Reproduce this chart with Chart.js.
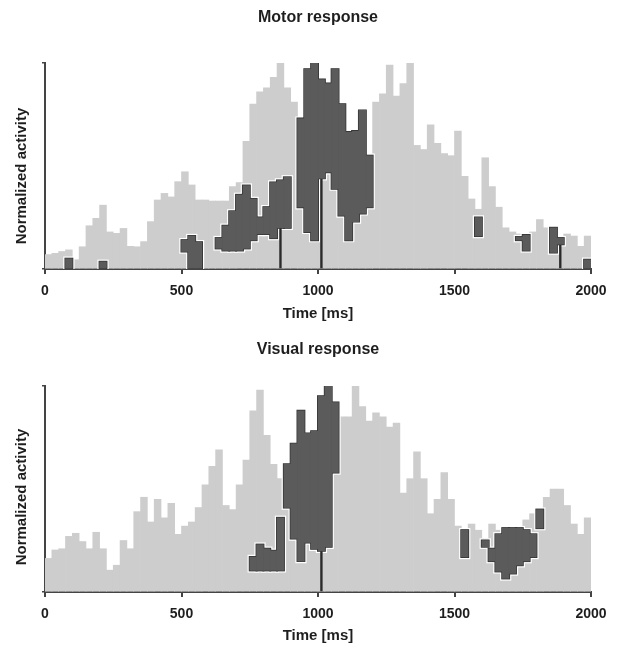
<!DOCTYPE html>
<html><head><meta charset="utf-8">
<script src="https://cdn.jsdelivr.net/npm/chart.js@4.4.1/dist/chart.umd.min.js"></script>
<style>
html,body{margin:0;padding:0;background:#fff;}
#wrap{position:relative;width:618px;height:649px;}
canvas{position:absolute;left:0;display:block;}
#c1{top:0}
#c2{top:325px}
</style></head><body>
<div id="wrap">
<canvas id="c1" width="618" height="325"></canvas>
<canvas id="c2" width="618" height="324"></canvas>
</div>
<script>
// Bin start times (ms), 25 ms bins
const binStarts = [0,25,50,75,100,125,150,175,200,225,250,275,300,325,350,375,400,425,450,475,
  500,525,550,575,600,625,650,675,700,725,750,775,800,825,850,875,900,925,950,975,
  1000,1025,1050,1075,1100,1125,1150,1175,1200,1225,1250,1275,1300,1325,1350,1375,1400,1425,1450,1475,
  1500,1525,1550,1575,1600,1625,1650,1675,1700,1725,1750,1775,1800,1825,1850,1875,1900,1925,1950,1975];
const xTicks = [0,500,1000,1500,2000];
const titles = ["Motor response","Visual response"];
const xLabel = "Time [ms]";
const yLabel = "Normalized activity";

// Motor response: whole population activity (light)
const motorAll = [0.07,0.076,0.085,0.093,0.045,0.108,0.21,0.246,0.31,0.18,0.173,0.197,0.11,0.108,0.133,0.23,0.335,0.367,0.35,0.424,
  0.472,0.408,0.335,0.335,0.33,0.33,0.33,0.4,0.42,0.62,0.8,0.86,0.88,0.93,1.0,0.88,0.81,0.5,0.3,0.3,
  0.45,0.47,0.42,0.3,0.2,0.3,0.3,0.35,0.81,0.85,0.99,0.84,0.9,1.0,0.6,0.58,0.7,0.61,0.56,0.55,
  0.67,0.45,0.34,0.29,0.54,0.4,0.3,0.2,0.18,0.17,0.16,0.18,0.24,0.2,0.17,0.12,0.17,0.16,0.11,0.16];
// Motor response: significant part (dark), [low, high]
const motorSig = [null,null,null,[0,0.05],null,null,null,null,[0,0.035],null,null,null,null,null,null,null,null,null,null,null,
  [0.085,0.14],[0,0.16],[0,0.13],null,null,[0.1,0.15],[0.09,0.21],[0.09,0.28],[0.09,0.36],[0.1,0.405],[0.14,0.34],[0.17,0.25],[0.17,0.3],[0.15,0.42],[0.2,0.43],[0.2,0.445],null,[0.3,0.73],[0.18,0.97],[0.14,1.0],
  [0.44,0.92],[0.47,0.9],[0.39,0.97],[0.26,0.8],[0.14,0.665],[0.23,0.67],[0.27,0.77],[0.3,0.55],null,null,null,null,null,null,null,null,null,null,null,null,
  null,null,null,[0.16,0.25],null,null,null,null,null,[0.14,0.155],[0.09,0.165],null,null,null,[0.08,0.2],[0.12,0.15],null,null,null,[0,0.045]];
// Motor response: thin dark stems down to the baseline
const motorStem = [null,null,null,null,null,null,null,null,null,null,null,null,null,null,null,null,null,null,null,null,
  null,null,null,null,null,null,null,null,null,null,null,null,null,null,0.2,null,null,null,null,null,
  0.44,null,null,null,null,null,null,null,null,null,null,null,null,null,null,null,null,null,null,null,
  null,null,null,null,null,null,null,null,null,null,null,null,null,null,null,0.12,null,null,null,null];

// Visual response
const visualAll = [0.163,0.204,0.21,0.27,0.285,0.245,0.21,0.29,0.21,0.106,0.13,0.25,0.21,0.39,0.46,0.34,0.45,0.36,0.43,0.28,
  0.32,0.34,0.41,0.52,0.61,0.69,0.42,0.4,0.52,0.64,0.88,0.98,0.76,0.62,0.55,0.45,0.3,0.2,0.28,0.25,
  0.22,0.25,0.6,0.85,0.85,1.0,0.9,0.83,0.87,0.85,0.8,0.82,0.48,0.55,0.68,0.55,0.38,0.45,0.58,0.45,
  0.32,0.29,0.33,0.3,0.26,0.33,0.3,0.25,0.25,0.3,0.35,0.38,0.4,0.46,0.5,0.5,0.42,0.33,0.28,0.36];
const visualSig = [null,null,null,null,null,null,null,null,null,null,null,null,null,null,null,null,null,null,null,null,
  null,null,null,null,null,null,null,null,null,null,[0.105,0.17],[0.105,0.23],[0.105,0.21],[0.105,0.2],[0.105,0.36],[0.41,0.62],[0.26,0.72],[0.15,0.88],[0.24,0.77],[0.21,0.78],
  [0.2,0.95],[0.22,1.0],[0.58,0.92],null,null,null,null,null,null,null,null,null,null,null,null,null,null,null,null,null,
  null,[0.17,0.3],null,null,[0.22,0.25],[0.15,0.21],[0.1,0.28],[0.066,0.31],[0.09,0.31],[0.13,0.31],[0.15,0.3],[0.17,0.28],[0.31,0.4],null,null,null,null,null,null,null];
const visualStem = [null,null,null,null,null,null,null,null,null,null,null,null,null,null,null,null,null,null,null,null,
  null,null,null,null,null,null,null,null,null,null,null,null,null,null,null,null,null,null,null,null,
  0.2,null,null,null,null,null,null,null,null,null,null,null,null,null,null,null,null,null,null,null,
  null,null,null,null,null,null,null,null,null,null,null,null,null,null,null,null,null,null,null,null];

const FONT = '"Liberation Sans", Arial, Helvetica, sans-serif';
const INK = '#1e1e1e';
const AXIS = '#444444';
const binWidth = binStarts[1] - binStarts[0];

function toPoints(vals, asRange) {
  const out = [];
  vals.forEach((v, i) => {
    if (v === null || v === undefined) return;
    const x = binStarts[i] + binWidth / 2;
    out.push({x: x, y: asRange ? (Array.isArray(v) ? v : [0, v]) : v});
  });
  return out;
}

const yLabelPlugin = {
  id: 'ylab',
  afterDraw(chart, args, opts) {
    const ctx = chart.ctx;
    ctx.save();
    ctx.translate(opts.x, opts.y);
    ctx.rotate(-Math.PI / 2);
    ctx.font = 'bold ' + opts.size + 'px ' + FONT;
    ctx.fillStyle = INK;
    ctx.textAlign = 'center';
    ctx.textBaseline = 'middle';
    ctx.fillText(opts.text, 0, 0);
    ctx.restore();
  }
};

function makePanel(canvasId, title, allVals, sigVals, stemVals, cfg) {
  const common = {grouped: false, barPercentage: 1, categoryPercentage: 1, borderWidth: 0};
  const sigPts = toPoints(sigVals, true);
  return new Chart(document.getElementById(canvasId), {
    type: 'bar',
    data: {
      datasets: [
        Object.assign({label: 'sig', data: sigPts, backgroundColor: '#5b5b5b', order: 0}, common),
        Object.assign({label: 'stem', data: toPoints(stemVals, true), backgroundColor: '#2a2a2a', order: 0}, common, {barPercentage: 0.35}),
        Object.assign({label: 'sigEdge', data: sigPts, backgroundColor: '#2c2c2c', order: 1, inflateAmount: 1}, common),
        Object.assign({label: 'sigHalo', data: sigPts, backgroundColor: '#ffffff', order: 2, inflateAmount: 2.2}, common),
        Object.assign({label: 'all', data: toPoints(allVals, false), backgroundColor: '#cdcdcd', order: 3}, common)
      ]
    },
    options: {
      responsive: false,
      animation: false,
      devicePixelRatio: 1,
      layout: {padding: {left: 0, right: 27, top: 0, bottom: 0}},
      plugins: {
        legend: {display: false},
        tooltip: {enabled: false},
        title: {display: true, text: title, fullSize: false, color: INK,
          font: {family: FONT, size: 16, weight: 'bold'}, padding: cfg.titlePad},
        ylab: {text: yLabel, x: 22, y: cfg.yLabY, size: 15}
      },
      scales: {
        x: {
          type: 'linear', min: 0, max: 2000, z: 1, offset: false,
          afterBuildTicks(s) { s.ticks = xTicks.map(v => ({value: v})); },
          afterFit(s) { s.height = cfg.xHeight; },
          grid: {display: true, offset: false, drawOnChartArea: false, drawTicks: true, tickLength: 5, color: AXIS, lineWidth: 2},
          border: {display: true, color: AXIS, width: 2},
          ticks: {padding: 9, color: INK, maxRotation: 0, autoSkip: false,
            callback: v => String(v),
            font: {family: FONT, size: 14, weight: 'bold'}},
          title: {display: true, text: xLabel, color: INK,
            font: {family: FONT, size: 15, weight: 'bold'}, padding: {top: 0, bottom: cfg.xTitlePad}}
        },
        y: {
          min: 0, max: 1, z: 1,
          afterFit(s) { s.width = 45; },
          grid: {display: true, drawOnChartArea: false, drawTicks: true, tickLength: 3, color: AXIS, lineWidth: 1.5},
          border: {display: true, color: AXIS, width: 2},
          ticks: {display: false, stepSize: 1}
        }
      }
    },
    plugins: [yLabelPlugin]
  });
}

makePanel('c1', titles[0], motorAll, motorSig, motorStem,
  {titlePad: {top: 8.4, bottom: 35.4}, xHeight: 56, xTitlePad: 2, yLabY: 176});
makePanel('c2', titles[1], visualAll, visualSig, visualStem,
  {titlePad: {top: 15.4, bottom: 26.4}, xHeight: 57, xTitlePad: 4, yLabY: 172});
</script>
</body></html>
